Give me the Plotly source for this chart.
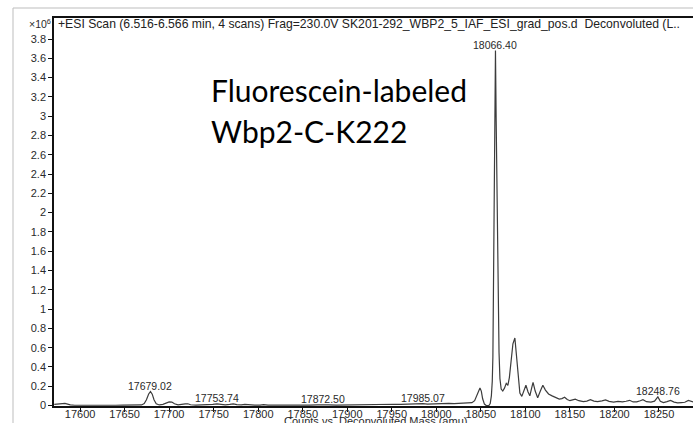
import plotly.graph_objects as go

# Deconvoluted mass spectrum (counts in units of 10^6)
mass = [
    17571, 17574, 17577, 17580, 17583, 17586, 17589, 17594, 17600, 17608,
    17616, 17624, 17632, 17640, 17648, 17656, 17664, 17669, 17672, 17674.5,
    17677, 17679.02, 17681, 17683, 17685.5, 17689, 17693, 17697, 17700, 17703,
    17706, 17710, 17714, 17718, 17721, 17724, 17730, 17737, 17744, 17749,
    17753.74, 17758, 17763, 17768, 17772, 17776, 17781, 17785, 17789, 17796,
    17802, 17806, 17811, 17820, 17830, 17840, 17850, 17858, 17866, 17872.50,
    17879, 17888, 17897, 17906, 17914, 17922, 17930, 17938, 17946, 17953,
    17960, 17967, 17974, 17980, 17985.07, 17990, 17996, 18002, 18008, 18014,
    18020, 18026, 18031, 18036, 18040, 18043, 18045.5, 18047.5, 18049, 18050.5,
    18052, 18054, 18056, 18059, 18060.5, 18061.8, 18062.8, 18063.5, 18064.2, 18064.9,
    18065.6, 18066.40, 18067.2, 18068.0, 18068.9, 18069.7, 18070.4, 18071.4, 18072.8, 18074.6,
    18076.5, 18078.5, 18080.3, 18082, 18084, 18086, 18088.2, 18090, 18091.8, 18093.8,
    18096, 18098.3, 18100.6, 18103, 18105, 18107, 18108.6, 18111, 18113.8, 18116.8,
    18119.6, 18122.5, 18126, 18130, 18134, 18138, 18141, 18144, 18147, 18150,
    18153, 18156, 18160, 18165, 18169, 18173, 18177, 18181, 18186, 18190,
    18194, 18199, 18204, 18209, 18213, 18217, 18221, 18225, 18229, 18232,
    18236, 18241, 18245, 18248.76, 18251.5, 18255, 18259, 18263, 18267, 18271,
    18275, 18279, 18283, 18287, 18290,
]
counts = [
    0.012, 0.015, 0.012, 0.016, 0.022, 0.014, 0.006, 0.003, 0.002, 0.003,
    0.002, 0.004, 0.002, 0.003, 0.005, 0.003, 0.004, 0.006, 0.020, 0.060,
    0.120, 0.145, 0.118, 0.060, 0.018, 0.006, 0.012, 0.030, 0.038, 0.036,
    0.018, 0.007, 0.008, 0.016, 0.018, 0.008, 0.004, 0.005, 0.008, 0.012,
    0.017, 0.010, 0.006, 0.011, 0.016, 0.009, 0.006, 0.012, 0.007, 0.004,
    0.005, 0.009, 0.004, 0.003, 0.004, 0.003, 0.004, 0.005, 0.007, 0.010,
    0.006, 0.004, 0.006, 0.005, 0.007, 0.006, 0.009, 0.008, 0.011, 0.013,
    0.011, 0.014, 0.012, 0.015, 0.019, 0.015, 0.018, 0.020, 0.017, 0.022,
    0.020, 0.024, 0.022, 0.027, 0.030, 0.050, 0.110, 0.165, 0.182, 0.150,
    0.070, 0.015, 0.000, 0.000, 0.020, 0.100, 0.250, 0.500, 1.100, 1.800,
    2.800, 3.680, 2.950, 2.300, 1.650, 1.000, 0.550, 0.280, 0.170, 0.150,
    0.180, 0.230, 0.210, 0.290, 0.450, 0.640, 0.700, 0.520, 0.260, 0.130,
    0.095, 0.160, 0.210, 0.140, 0.100, 0.180, 0.240, 0.150, 0.080, 0.150,
    0.210, 0.160, 0.120, 0.100, 0.080, 0.066, 0.072, 0.086, 0.062, 0.050,
    0.058, 0.066, 0.050, 0.040, 0.045, 0.060, 0.046, 0.040, 0.048, 0.058,
    0.043, 0.036, 0.042, 0.038, 0.044, 0.054, 0.037, 0.038, 0.050, 0.060,
    0.040, 0.035, 0.045, 0.090, 0.045, 0.031, 0.040, 0.052, 0.035, 0.028,
    0.031, 0.034, 0.052, 0.036, 0.032,
]

# Labelled peak apexes
peak_masses = [17679.02, 17753.74, 17872.50, 17985.07, 18066.40, 18248.76]
peak_text = ["17679.02", "17753.74", "17872.50", "17985.07", "18066.40", "18248.76"]

x_tick_vals = [17600, 17650, 17700, 17750, 17800, 17850, 17900, 17950,
               18000, 18050, 18100, 18150, 18200, 18250]
x_tick_text = ["17600", "17650", "17700", "17750", "17800", "17850", "17900",
               "17950", "18000", "18050", "18100", "18150", "18200", "18250"]
y_tick_vals = [0, 0.2, 0.4, 0.6, 0.8, 1, 1.2, 1.4, 1.6, 1.8, 2, 2.2, 2.4,
               2.6, 2.8, 3, 3.2, 3.4, 3.6, 3.8]
y_tick_text = ["0", "0.2", "0.4", "0.6", "0.8", "1", "1.2", "1.4", "1.6", "1.8",
               "2", "2.2", "2.4", "2.6", "2.8", "3", "3.2", "3.4", "3.6", "3.8"]

scan_title = ("+ESI Scan (6.516-6.566 min, 4 scans) Frag=230.0V "
              "SK201-292_WBP2_5_IAF_ESI_grad_pos.d  Deconvoluted (L..")
x_title = "Counts vs. Deconvoluted Mass (amu)"
sample_lines = ["Fluorescein-labeled", "Wbp2-C-K222"]

W, H = 693, 423
L, R, T, B = 54, 693, 18, 406


def px(x):
    return (x - L) / (R - L)


def py(y):
    return (B - y) / (B - T)


FONT = "Liberation Sans, Arial"
TICK_FONT = dict(family=FONT, size=11, color="#2a2a2a")

fig = go.Figure()
fig.add_trace(go.Scatter(
    x=mass, y=counts, mode="lines",
    line=dict(color="#3c3c3c", width=1.2),
    hoverinfo="skip", showlegend=False,
))

height_at = dict(zip(mass, counts))
annotations = []
for m, t in zip(peak_masses, peak_text):
    annotations.append(dict(
        x=m, y=height_at[m], xref="x", yref="y", text=t, showarrow=False,
        yanchor="bottom", xanchor="center", yshift=-2,
        font=dict(family=FONT, size=10.5, color="#2a2a2a"),
    ))

annotations += [
    dict(x=px(56), y=py(24), xref="paper", yref="paper", text=scan_title,
         showarrow=False, xanchor="left", yanchor="middle",
         font=dict(family=FONT, size=12.2, color="#222")),
    dict(x=px(53), y=py(24), xref="paper", yref="paper",
         text="×10<sup>6</sup>", showarrow=False, xanchor="right",
         yanchor="middle",
         font=dict(family=FONT, size=10.5, color="#2a2a2a")),
    dict(x=px(375), y=py(413), xref="paper", yref="paper", text=x_title,
         showarrow=False, xanchor="center", yanchor="top",
         font=dict(family=FONT, size=11, color="#2a2a2a")),
    dict(x=px(209), y=py(90), xref="paper", yref="paper",
         text=sample_lines[0], showarrow=False, xanchor="left",
         yanchor="middle",
         font=dict(family="Lato", size=30, color="#000")),
    dict(x=px(209), y=py(131), xref="paper", yref="paper",
         text=sample_lines[1], showarrow=False, xanchor="left",
         yanchor="middle",
         font=dict(family="Lato", size=30, color="#000")),
]

shapes = [
    # slide frame
    dict(type="line", xref="paper", yref="paper",
         x0=px(13), x1=px(693), y0=py(8), y1=py(8),
         line=dict(color="#bdbdbd", width=1)),
    dict(type="line", xref="paper", yref="paper",
         x0=px(13), x1=px(13), y0=py(8), y1=py(423),
         line=dict(color="#bdbdbd", width=1)),
]

fig.update_layout(
    width=W, height=H,
    margin=dict(l=L, r=W - R, t=T, b=H - B),
    paper_bgcolor="white", plot_bgcolor="white",
    showlegend=False,
    annotations=annotations,
    shapes=shapes,
    xaxis=dict(
        range=[17570.7, 18288.2], tickmode="array", tickvals=x_tick_vals,
        ticktext=x_tick_text,
        showgrid=False, zeroline=False, showline=True, linecolor="#111",
        linewidth=1.5, mirror=True, ticks="outside", ticklen=4,
        tickcolor="#111", tickwidth=1, tickfont=TICK_FONT,
        ticklabelstandoff=-7,
    ),
    yaxis=dict(
        range=[-0.005, 4.018], tickmode="array", tickvals=y_tick_vals,
        ticktext=y_tick_text, showgrid=False, zeroline=False, showline=True,
        linecolor="#111", linewidth=1.5, ticks="outside", ticklen=4,
        tickcolor="#111", tickwidth=1, tickfont=TICK_FONT,
    ),
)

fig.write_html("out.html")
